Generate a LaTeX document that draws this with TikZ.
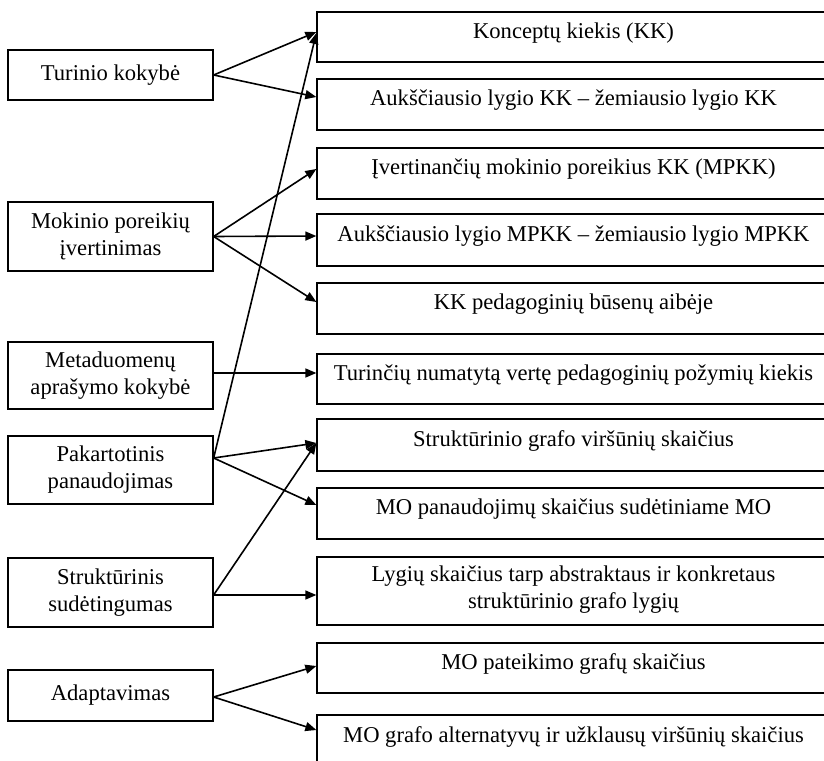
\documentclass[tikz,border=0pt]{standalone}
\usepackage{fontspec}
\setmainfont{Liberation Serif}
\usetikzlibrary{arrows.meta}
\begin{document}
\begin{tikzpicture}[x=1pt,y=-1pt,
  box/.style={draw, line width=1.3pt, inner sep=0pt},
  lbox/.style={box, minimum width=205pt},
  rbox/.style={box, minimum width=513pt},
  txt/.style={align=center, inner sep=0pt, font=\fontsize{22.6}{27}\selectfont},
  link/.style={line width=1.6pt, -{Triangle[length=11pt,width=9pt]}}]
\useasboundingbox (0,0) rectangle (824,760);

% criteria (left column)
\node[lbox, minimum height=50pt] (lt)  at (110.5,75)    {};
\node[txt] (lt-t)  at (lt)  {Turinio kokybė};
\node[lbox, minimum height=69pt] (lm)  at (110.5,236.5) {};
\node[txt] (lm-t)  at (lm)  {Mokinio poreikių\\įvertinimas};
\node[lbox, minimum height=67pt] (lmd) at (110.5,375.5) {};
\node[txt] (lmd-t) at (lmd) {Metaduomenų\\aprašymo kokybė};
\node[lbox, minimum height=68pt] (lp)  at (110.5,470)   {};
\node[txt] (lp-t)  at (lp)  {Pakartotinis\\panaudojimas};
\node[lbox, minimum height=69pt] (ls)  at (110.5,592.5) {};
\node[txt] (ls-t)  at (ls)  {Struktūrinis\\sudėtingumas};
\node[lbox, minimum height=51pt] (la)  at (110.5,695.5) {};
\node[txt] (la-t)  at (la)  {Adaptavimas};

% metrics (right column)
\node[rbox, minimum height=50pt] (r1)  at (573.5,37)    {};
\node[txt] (r1-t)  at ([yshift=4pt]r1.center)  {Konceptų kiekis (KK)};
\node[rbox, minimum height=51pt] (r2)  at (573.5,104.5) {};
\node[txt] (r2-t)  at ([yshift=4pt]r2.center)  {Aukščiausio lygio KK – žemiausio lygio KK};
\node[rbox, minimum height=51pt] (r3)  at (573.5,173.5) {};
\node[txt] (r3-t)  at ([yshift=4pt]r3.center)  {Įvertinančių mokinio poreikius KK (MPKK)};
\node[rbox, minimum height=52pt] (r4)  at (573.5,240)   {};
\node[txt] (r4-t)  at ([yshift=4pt]r4.center)  {Aukščiausio lygio MPKK – žemiausio lygio MPKK};
\node[rbox, minimum height=51pt] (r5)  at (573.5,308.5) {};
\node[txt] (r5-t)  at ([yshift=4pt]r5.center)  {KK pedagoginių būsenų aibėje};
\node[rbox, minimum height=50pt] (r6)  at (573.5,379)   {};
\node[txt] (r6-t)  at ([yshift=4pt]r6.center)  {Turinčių numatytą vertę pedagoginių požymių kiekis};
\node[rbox, minimum height=52pt] (r7)  at (573.5,445)   {};
\node[txt] (r7-t)  at ([yshift=4pt]r7.center)  {Struktūrinio grafo viršūnių skaičius};
\node[rbox, minimum height=51pt] (r8)  at (573.5,513.5) {};
\node[txt] (r8-t)  at ([yshift=4pt]r8.center)  {MO panaudojimų skaičius sudėtiniame MO};
\node[rbox, minimum height=68pt] (r9)  at (573.5,591)   {};
\node[txt] (r9-t)  at ([yshift=1pt]r9.center)  {Lygių skaičius tarp abstraktaus ir konkretaus\\struktūrinio grafo lygių};
\node[rbox, minimum height=50pt] (r10) at (573.5,668)   {};
\node[txt] (r10-t) at ([yshift=4pt]r10.center) {MO pateikimo grafų skaičius};
\node[rbox, minimum height=51pt] (r11) at (573.5,740.5) {};
\node[txt] (r11-t) at ([yshift=4pt]r11.center) {MO grafo alternatyvų ir užklausų viršūnių skaičius};

% connectors
\draw[link] (lt.east) -- ([yshift=5pt]r1.west);
\draw[link] (lt.east) -- ([yshift=7.5pt]r2.west);

\draw[link] (lm.east) -- ([yshift=4.5pt]r3.west);
\draw[link] (lm.east) -- ([yshift=4pt]r4.west);
\draw[link] (lm.east) -- ([yshift=6.5pt]r5.west);

\draw[link] ([yshift=2.5pt]lmd.east) -- ([yshift=6pt]r6.west);

\draw[link] ([yshift=12pt]lp.east) -- ([yshift=4pt]r1.west);
\draw[link] ([yshift=12pt]lp.east) -- ([yshift=2pt]r7.west);
\draw[link] ([yshift=12pt]lp.east) -- ([yshift=8.5pt]r8.west);

\draw[link] ([yshift=-2.5pt]ls.east) -- ([yshift=2pt]r7.west);
\draw[link] ([yshift=-2.5pt]ls.east) -- ([yshift=-4pt]r9.west);

\draw[link] ([yshift=-1.5pt]la.east) -- ([yshift=2pt]r10.west);
\draw[link] ([yshift=-1.5pt]la.east) -- ([yshift=10.5pt]r11.west);
\end{tikzpicture}
\end{document}
